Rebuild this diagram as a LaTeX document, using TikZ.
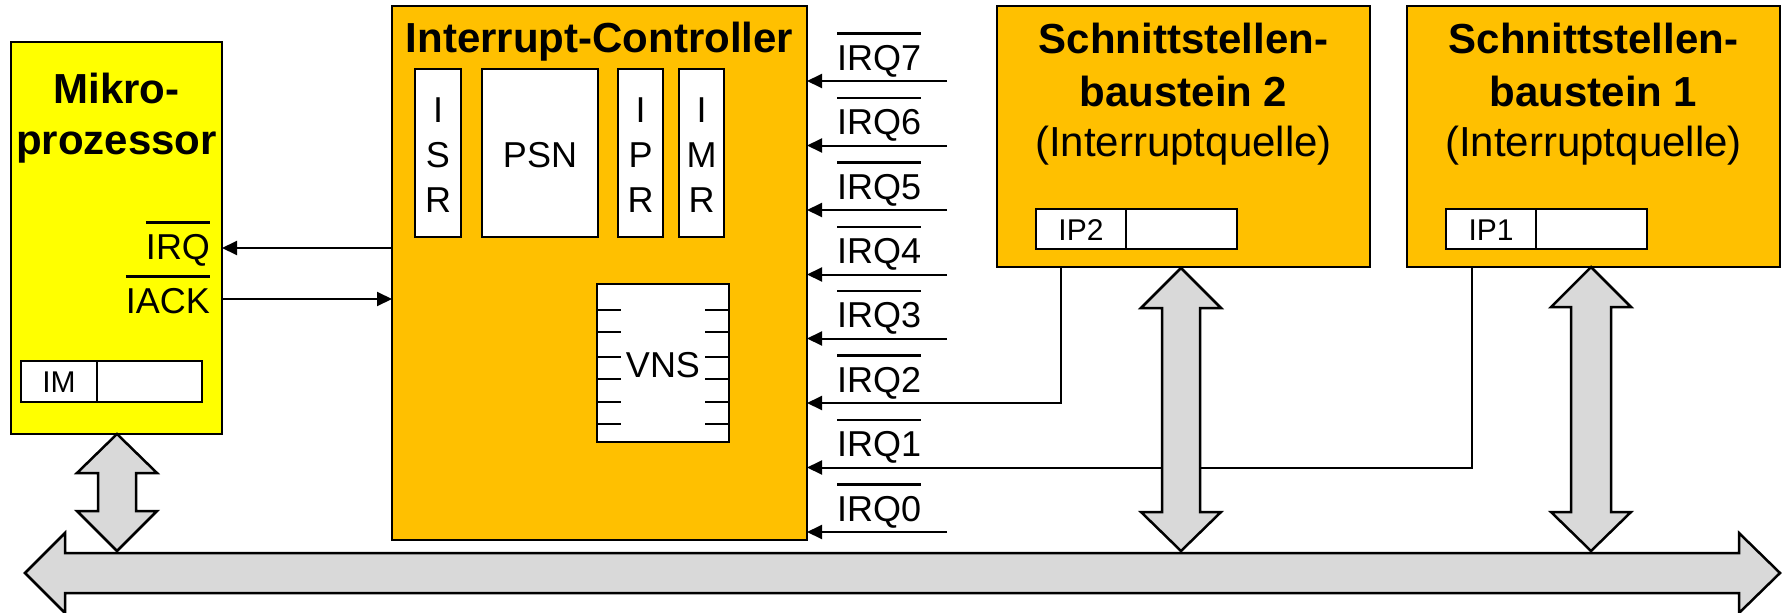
\documentclass[tikz,border=0pt]{standalone}
\usepackage{fontspec}
\setmainfont{Liberation Sans}
\usetikzlibrary{arrows.meta}
\definecolor{cpuyellow}{HTML}{FFFF00}
\definecolor{icorange}{HTML}{FFC000}
\definecolor{busgrey}{HTML}{D9D9D9}
\newcommand\ovl[1]{\vbox{\hrule height 2.5pt\kern 10pt\hbox{#1}}}
\newcommand\hdfont{\fontsize{42}{50}\selectfont\bfseries}
\newcommand\sbfont{\fontsize{42}{50}\selectfont}
\newcommand\lbfont{\fontsize{36}{42}\selectfont}
\newcommand\rgfont{\fontsize{30}{36}\selectfont}
\begin{document}
\begin{tikzpicture}[x=1pt,y=-1pt,
  unit/.style={draw=black, line width=2.5pt, inner sep=0pt, outer sep=0pt},
  reg/.style={unit, fill=white},
  sig/.style={draw=black, line width=2pt, -{Triangle[length=15pt,width=14pt]}},
  wire/.style={draw=black, line width=2pt},
  busarrow/.style={draw=black, fill=busgrey, line width=2.5pt, line join=miter},
  txt/.style={inner sep=0pt, outer sep=0pt, anchor=base},
]
\fill[white] (0,0) rectangle (1792,613);
\useasboundingbox (0,0) rectangle (1792,613);

% main blocks
\node[unit, fill=cpuyellow, minimum width=211pt, minimum height=392pt] (micro) at (116.5,238) {};
\node[unit, fill=icorange, minimum width=415pt, minimum height=534pt] (ctrl) at (599.5,273) {};
\node[unit, fill=icorange, minimum width=373pt, minimum height=261pt] (src2) at (1183.5,136.5) {};
\node[unit, fill=icorange, minimum width=373pt, minimum height=261pt] (src1) at (1593.5,136.5) {};

% controller internals
\node[reg, minimum width=46pt, minimum height=168pt] (isr) at (438,153) {};
\node[reg, minimum width=116pt, minimum height=168pt] (psn) at (540,153) {};
\node[reg, minimum width=45pt, minimum height=168pt] (ipr) at (640.5,153) {};
\node[reg, minimum width=45pt, minimum height=168pt] (imr) at (701.5,153) {};
\node[reg, minimum width=132pt, minimum height=158pt] (vns) at (663,363) {};
\foreach \ty in {310,332,357,379,402,424}{
  \draw[wire] (597,\ty) -- ++(24,0);
  \draw[wire] (729,\ty) -- ++(-24,0);
}

% registers
\node[reg, minimum width=76pt, minimum height=41pt] (imname) at (59,381.5) {};
\node[reg, minimum width=105pt, minimum height=41pt] (imval) at (149.5,381.5) {};
\node[reg, minimum width=90pt, minimum height=40pt] (iptwoname) at (1081,229) {};
\node[reg, minimum width=111pt, minimum height=40pt] (iptwoval) at (1181.5,229) {};
\node[reg, minimum width=90pt, minimum height=40pt] (iponename) at (1491,229) {};
\node[reg, minimum width=111pt, minimum height=40pt] (iponeval) at (1591.5,229) {};

% signals between processor and controller
\coordinate (yirq) at (0,248);
\coordinate (yiack) at (0,299);
\draw[sig] (ctrl.west |- yirq) -- (micro.east |- yirq);
\draw[sig] (micro.east |- yiack) -- (ctrl.west |- yiack);

% interrupt request lines
\foreach \k/\yy in {7/81,6/145.5,5/210,4/274.5,3/338.5,0/532}{
  \coordinate (s\k) at (947,\yy);
  \draw[sig] (s\k) -- (ctrl.east |- s\k);
}
\coordinate (tap2) at (1061,403);
\draw[sig] (src2.south -| tap2) |- (ctrl.east |- tap2);
\coordinate (tap1) at (1472,467.5);
\draw[sig] (src1.south -| tap1) |- (ctrl.east |- tap1);

% bus arrows
\draw[busarrow] (117,434) -- (157,473) -- (136,473) -- (136,511) -- (157,511) -- (117,551)
  -- (77,511) -- (98,511) -- (98,473) -- (77,473) -- cycle;
\draw[busarrow] (1181,268) -- (1221,308) -- (1200,308) -- (1200,512) -- (1221,512) -- (1181,551)
  -- (1141,512) -- (1162,512) -- (1162,308) -- (1141,308) -- cycle;
\draw[busarrow] (1591,267) -- (1631,307) -- (1611,307) -- (1611,512) -- (1631,512) -- (1591,551)
  -- (1551,512) -- (1571,512) -- (1571,307) -- (1551,307) -- cycle;
\draw[busarrow] (25,573) -- (65,533) -- (65,553) -- (1739,553) -- (1739,533) -- (1780,573)
  -- (1739,613) -- (1739,593) -- (65,593) -- (65,613) -- cycle;

% texts
\node[txt] (mtA) at (116.5,103) {\hdfont Mikro-};
\node[txt] (mtB) at (116.5,154) {\hdfont prozessor};
\node[txt] (ctt) at (599.5,52) {\hdfont Interrupt-Controller};
\node[txt] (stwoA) at (1183.5,53) {\hdfont Schnittstellen-};
\node[txt] (stwoB) at (1183.5,106) {\hdfont baustein 2};
\node[txt] (stwoC) at (1183.5,156) {\sbfont (Interruptquelle)};
\node[txt] (soneA) at (1593.5,53) {\hdfont Schnittstellen-};
\node[txt] (soneB) at (1593.5,106) {\hdfont baustein 1};
\node[txt] (soneC) at (1593.5,156) {\sbfont (Interruptquelle)};

\foreach \nm/\xx in {isr/438,ipr/640.5,imr/701.5}{
  \node[txt] (\nm-a) at (\xx,122) {\lbfont I};
}
\node[txt] (isr-b) at (438,167) {\lbfont S};
\node[txt] (isr-c) at (438,212) {\lbfont R};
\node[txt] (ipr-b) at (640.5,167) {\lbfont P};
\node[txt] (ipr-c) at (640.5,212) {\lbfont R};
\node[txt] (imr-b) at (701.5,167) {\lbfont M};
\node[txt] (imr-c) at (701.5,212) {\lbfont R};
\node[txt] (psnt) at (540,167) {\lbfont PSN};
\node[txt] (vnst) at (663,377) {\lbfont VNS};

\node[txt] (imt) at (59,392) {\rgfont IM};
\node[txt] (iptwot) at (1081,240) {\rgfont IP2};
\node[txt] (iponet) at (1491,240) {\rgfont IP1};

\node[txt, anchor=base east] (lirq) at (210,259) {\lbfont\ovl{IRQ}};
\node[txt, anchor=base east] (liack) at (210,313) {\lbfont\ovl{IACK}};
\foreach \k/\yy in {7/81,6/145.5,5/210,4/274.5,3/338.5,2/403,1/467.5,0/532}{
  \node[txt, anchor=base west] (lbl\k) at (837,\yy-11) {\lbfont\ovl{IRQ\k}};
}
\end{tikzpicture}
\end{document}
